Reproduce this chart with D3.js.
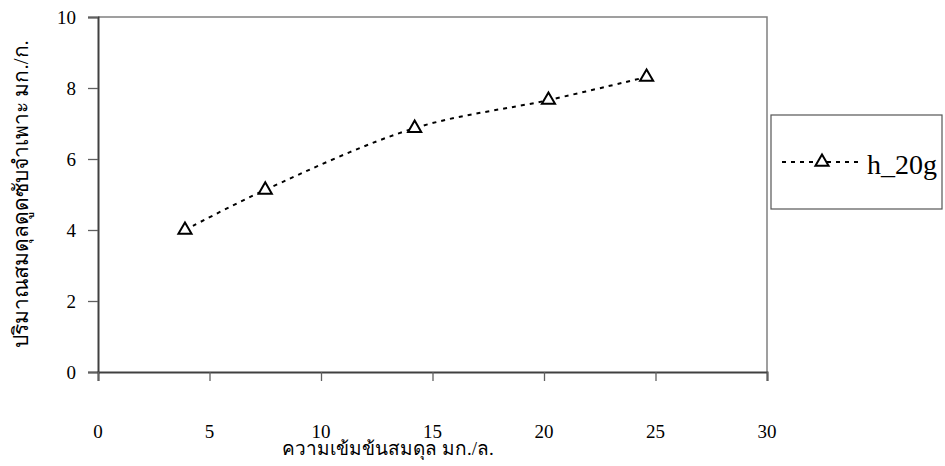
<!DOCTYPE html>
<html><head><meta charset="utf-8">
<script src="https://cdn.jsdelivr.net/npm/d3@7"></script>
<style>body{margin:0;background:#fff}svg{display:block}</style>
</head><body>
<svg id="c" width="945" height="466"></svg>
<script>
const seriesName = "h_20g";
const xValues = [3.9, 7.5, 14.2, 20.2, 24.6];
const yValues = [4.0, 5.13, 6.87, 7.66, 8.31];
const xTicks = [0, 5, 10, 15, 20, 25, 30];
const yTicks = [0, 2, 4, 6, 8, 10];
const xTitle = "ความเข้มข้นสมดุล มก./ล.";
const yTitle = "ปริมาณสมดุลดูดซับจำเพาะ มก./ก.";

const svg = d3.select("#c");
const L = 98, R = 767, T = 17, B = 372;
const x = d3.scaleLinear().domain([0, 30]).range([L, R]);
const y = d3.scaleLinear().domain([0, 10]).range([B, T]);
const font = "Liberation Serif, Times New Roman, serif";

// plot border (top/right)
svg.append("path").attr("d", `M${L},${T}H${R}V${B}`).attr("fill","none").attr("stroke","#808080").attr("stroke-width",1.5);

// y axis
const ya = svg.append("g").attr("transform",`translate(${L},0)`)
  .call(d3.axisLeft(y).tickValues(yTicks).tickSize(10).tickFormat(""));
ya.select(".domain").attr("stroke","#404040").attr("stroke-width",2);
ya.selectAll(".tick line").attr("stroke","#606060").attr("stroke-width",1.3);
svg.append("g").selectAll("text").data(yTicks).join("text")
  .attr("x", L - 22).attr("y", d => y(d)).attr("dy","0.35em").attr("text-anchor","end")
  .style("font-family", font).style("font-size", "19px").attr("fill","#000").text(d => d);

// x axis
const xa = svg.append("g").attr("transform",`translate(0,${B})`)
  .call(d3.axisBottom(x).tickValues(xTicks).tickSize(9).tickFormat(""));
xa.select(".domain").attr("stroke","#404040").attr("stroke-width",2);
xa.selectAll(".tick line").attr("stroke","#606060").attr("stroke-width",1.3);
svg.append("g").selectAll("text").data(xTicks).join("text")
  .attr("x", d => x(d)).attr("y", 438).attr("text-anchor","middle")
  .style("font-family", font).style("font-size", "19px").attr("fill","#000").text(d => d);

// titles
svg.append("text").attr("x",388).attr("y",455).attr("text-anchor","middle")
  .style("font-family",font).style("font-size","19px").text(xTitle);
svg.append("text").attr("transform",`translate(28,194) rotate(-90)`).attr("text-anchor","middle")
  .style("font-family",font).style("font-size","21px").text(yTitle);

// line
const pts = xValues.map((v,i)=>[v,yValues[i]]);
const line = d3.line().x(d=>x(d[0])).y(d=>y(d[1])).curve(d3.curveCatmullRom.alpha(0.5));
svg.append("path").datum(pts).attr("d",line).attr("fill","none")
  .attr("stroke","#000").attr("stroke-width",2).attr("stroke-dasharray","4,5");

const tri = d3.symbol().type(d3.symbolTriangle).size(75);
svg.selectAll(".pt").data(pts).join("path").attr("class","pt")
  .attr("transform",d=>`translate(${x(d[0])},${y(d[1])})`)
  .attr("d",tri).attr("fill","#fff").attr("stroke","#000").attr("stroke-width",2);

// legend
svg.append("rect").attr("x",771).attr("y",115).attr("width",171).attr("height",94)
  .attr("fill","#fff").attr("stroke","#555").attr("stroke-width",1.2);
svg.append("line").attr("x1",782).attr("x2",860).attr("y1",162).attr("y2",162)
  .attr("stroke","#000").attr("stroke-width",2).attr("stroke-dasharray","4,5");
svg.append("path").attr("transform","translate(822,162)").attr("d",tri)
  .attr("fill","#fff").attr("stroke","#000").attr("stroke-width",2);
svg.append("text").attr("x",867).attr("y",174).style("font-family",font).style("font-size","28px").text(seriesName);
</script>
</body></html>
